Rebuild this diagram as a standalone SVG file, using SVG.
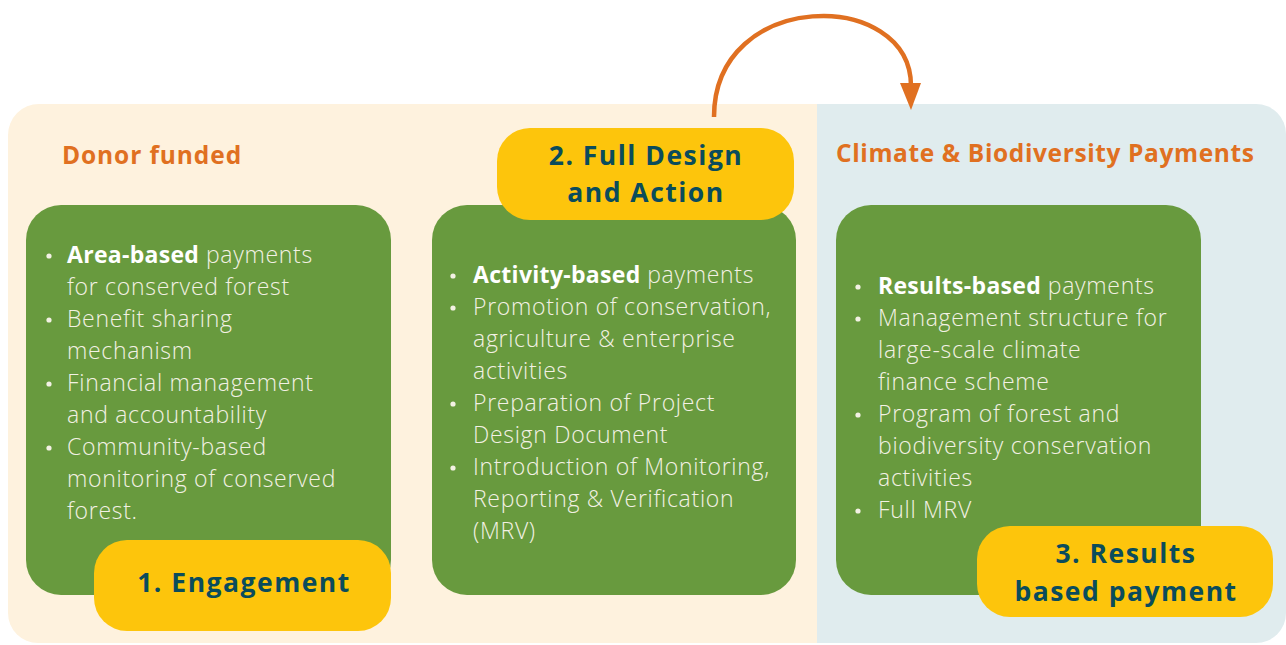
<svg xmlns="http://www.w3.org/2000/svg" width="1286" height="645" viewBox="0 0 1286 645">
<defs>
<style>
.title{font-family:"Open Sans","Liberation Sans",sans-serif;font-weight:700;font-size:24.5px;letter-spacing:0.9px;fill:#E07021}
.box{fill:#689A3E}
.pill{fill:#FDC50C}
.pt{font-family:"Open Sans","Liberation Sans",sans-serif;font-weight:700;font-size:26.5px;letter-spacing:1.5px;fill:#0A4C5C;text-anchor:middle}
.body{font-family:"Open Sans","Liberation Sans",sans-serif;font-weight:300;font-size:23px;letter-spacing:0.7px;fill:#F3F1E4}
.body .b{font-weight:700;fill:#FFFFFF;letter-spacing:0.3px}
.bul{fill:#F3F1E4}
</style>
</defs>
<rect width="1286" height="645" fill="#FFFFFF"/>
<g id="panel-donor">
<path d="M8,135 A31,31 0 0 1 39,104 H817 V643 H38 A30,30 0 0 1 8,613 Z" fill="#FEF2DE"/>
<text class="title" x="62" y="164">Donor funded</text>
</g>
<g id="panel-climate">
<path d="M817,104 H1256 A30,30 0 0 1 1286,134 V613 A30,30 0 0 1 1256,643 H817 Z" fill="#E0ECEE"/>
<text class="title" x="836" y="162" style="letter-spacing:0.62px">Climate &amp; Biodiversity Payments</text>
</g>
<g id="connectors">
<path d="M714,117 C714,-12 911,-12 911,86" fill="none" stroke="#E07021" stroke-width="4.5"/>
<polygon points="900,83 921,83 911,110" fill="#E07021"/>
</g>
<g id="node-engagement">
<rect class="box" x="26" y="205" width="365" height="390" rx="35"/>
<g class="body">
<circle class="bul" cx="49" cy="256" r="2.6"/>
<text x="67" y="263"><tspan class="b">Area-based</tspan> payments</text>
<text x="67" y="295">for conserved forest</text>
<circle class="bul" cx="49" cy="320" r="2.6"/>
<text x="67" y="327">Benefit sharing</text>
<text x="67" y="359">mechanism</text>
<circle class="bul" cx="49" cy="384" r="2.6"/>
<text x="67" y="391">Financial management</text>
<text x="67" y="423">and accountability</text>
<circle class="bul" cx="49" cy="448" r="2.6"/>
<text x="67" y="455">Community-based</text>
<text x="67" y="487">monitoring of conserved</text>
<text x="67" y="519">forest.</text>
</g>
<rect class="pill" x="94" y="540" width="297" height="91" rx="33"/>
<text class="pt" x="244" y="592">1. Engagement</text>
</g>
<g id="node-design">
<rect class="box" x="432" y="205" width="364" height="390" rx="35"/>
<g class="body">
<circle class="bul" cx="453" cy="276" r="2.6"/>
<text x="473" y="283"><tspan class="b">Activity-based</tspan> payments</text>
<circle class="bul" cx="453" cy="308" r="2.6"/>
<text x="473" y="315">Promotion of conservation,</text>
<text x="473" y="347">agriculture &amp; enterprise</text>
<text x="473" y="379">activities</text>
<circle class="bul" cx="453" cy="404" r="2.6"/>
<text x="473" y="411">Preparation of Project</text>
<text x="473" y="443">Design Document</text>
<circle class="bul" cx="453" cy="468" r="2.6"/>
<text x="473" y="475">Introduction of Monitoring,</text>
<text x="473" y="507">Reporting &amp; Verification</text>
<text x="473" y="539">(MRV)</text>
</g>
<rect class="pill" x="497" y="128" width="297" height="92" rx="33"/>
<text class="pt" x="646" y="165">2. Full Design</text>
<text class="pt" x="646" y="201.5">and Action</text>
</g>
<g id="node-results">
<rect class="box" x="836" y="205" width="365" height="390" rx="35"/>
<g class="body">
<circle class="bul" cx="858" cy="287" r="2.6"/>
<text x="878" y="294"><tspan class="b">Results-based</tspan> payments</text>
<circle class="bul" cx="858" cy="319" r="2.6"/>
<text x="878" y="326">Management structure for</text>
<text x="878" y="358">large-scale climate</text>
<text x="878" y="390">finance scheme</text>
<circle class="bul" cx="858" cy="415" r="2.6"/>
<text x="878" y="422">Program of forest and</text>
<text x="878" y="454">biodiversity conservation</text>
<text x="878" y="486">activities</text>
<circle class="bul" cx="858" cy="511" r="2.6"/>
<text x="878" y="518">Full MRV</text>
</g>
<rect class="pill" x="977" y="526" width="296" height="91" rx="33"/>
<text class="pt" x="1126" y="563">3. Results</text>
<text class="pt" x="1126" y="601">based payment</text>
</g>
</svg>
